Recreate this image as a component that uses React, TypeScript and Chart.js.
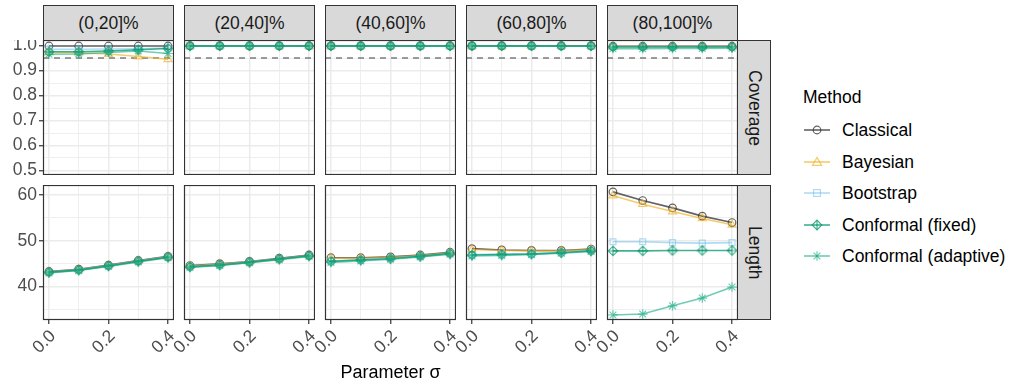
import React, { useEffect, useRef } from "react";
import { Chart, registerables } from "chart.js";

Chart.register(...registerables);

// ---------------- data ----------------
const sigma = [0, 0.1, 0.2, 0.3, 0.4];
const bins = ["(0,20]%", "(20,40]%", "(40,60]%", "(60,80]%", "(80,100]%"];
const rowLabels = ["Coverage", "Length"];
const methods = ["Classical", "Bayesian", "Bootstrap", "Conformal (fixed)", "Conformal (adaptive)"];

// x ticks
const xGridValues = [0, 0.1, 0.2, 0.3, 0.4];
const xMajorValues = [0, 0.2, 0.4];
const xTickLabels = ["0.0", "0.2", "0.4"];
// coverage ticks
const covGridValues = [0.5, 0.55, 0.6, 0.65, 0.7, 0.75, 0.8, 0.85, 0.9, 0.95, 1.0];
const covMajorValues = [0.5, 0.6, 0.7, 0.8, 0.9, 1.0];
const covTickLabels = ["0.5", "0.6", "0.7", "0.8", "0.9", "1.0"];
// length ticks
const lenGridValues = [35, 40, 45, 50, 55, 60];
const lenMajorValues = [40, 50, 60];
const lenTickLabels = ["40", "50", "60"];
const nominalCoverage = 0.95;

// Coverage: one row per bin, values over sigma
const coverageClassical = [
  [0.998, 0.998, 0.998, 0.998, 0.998],
  [0.999, 0.999, 0.999, 0.999, 0.999],
  [0.999, 0.999, 0.999, 0.999, 0.999],
  [0.999, 0.999, 0.999, 0.999, 0.999],
  [0.997, 0.997, 0.997, 0.997, 0.997],
];
const coverageBayesian = [
  [0.972, 0.971, 0.966, 0.956, 0.945],
  [0.998, 0.998, 0.998, 0.998, 0.998],
  [0.998, 0.998, 0.998, 0.998, 0.998],
  [0.998, 0.998, 0.998, 0.998, 0.998],
  [0.996, 0.996, 0.996, 0.996, 0.996],
];
const coverageBootstrap = [
  [0.985, 0.985, 0.986, 0.987, 0.99],
  [0.999, 0.999, 0.999, 0.999, 0.999],
  [0.999, 0.999, 0.999, 0.999, 0.999],
  [0.999, 0.999, 0.999, 0.999, 0.999],
  [0.995, 0.995, 0.995, 0.995, 0.995],
];
const coverageFixed = [
  [0.975, 0.975, 0.978, 0.983, 0.988],
  [0.998, 0.998, 0.998, 0.998, 0.998],
  [0.998, 0.998, 0.998, 0.998, 0.998],
  [0.998, 0.998, 0.998, 0.998, 0.998],
  [0.994, 0.994, 0.994, 0.994, 0.994],
];
const coverageAdaptive = [
  [0.965, 0.966, 0.972, 0.978, 0.968],
  [0.997, 0.997, 0.997, 0.997, 0.997],
  [0.997, 0.997, 0.997, 0.997, 0.997],
  [0.997, 0.997, 0.997, 0.997, 0.997],
  [0.987, 0.987, 0.988, 0.988, 0.989],
];

// Length: one row per bin, values over sigma
const lengthClassical = [
  [43.3, 43.8, 44.7, 45.7, 46.6],
  [44.6, 45.0, 45.5, 46.2, 46.9],
  [46.3, 46.3, 46.5, 46.9, 47.5],
  [48.3, 48.0, 47.9, 47.9, 48.2],
  [60.7, 58.8, 57.2, 55.4, 54.0],
];
const lengthBayesian = [
  [43.2, 43.7, 44.6, 45.6, 46.5],
  [44.5, 44.9, 45.4, 46.1, 46.8],
  [46.2, 46.2, 46.4, 46.8, 47.4],
  [48.1, 47.9, 47.8, 47.8, 48.1],
  [59.9, 58.0, 56.4, 54.9, 53.5],
];
const lengthBootstrap = [
  [43.2, 43.7, 44.6, 45.6, 46.5],
  [44.4, 44.8, 45.4, 46.1, 46.8],
  [45.6, 45.9, 46.2, 46.7, 47.3],
  [47.0, 47.1, 47.2, 47.5, 47.9],
  [49.8, 49.8, 49.6, 49.5, 49.6],
];
const lengthFixed = [
  [43.1, 43.6, 44.5, 45.5, 46.4],
  [44.3, 44.7, 45.3, 46.0, 46.7],
  [45.5, 45.8, 46.1, 46.6, 47.2],
  [46.9, 47.0, 47.1, 47.4, 47.8],
  [47.8, 47.8, 47.9, 47.9, 47.9],
];
const lengthAdaptive = [
  [43.0, 43.5, 44.4, 45.4, 46.3],
  [44.2, 44.6, 45.2, 45.9, 46.6],
  [45.3, 45.6, 46.0, 46.5, 47.1],
  [46.7, 46.8, 47.0, 47.3, 47.7],
  [33.8, 34.0, 35.8, 37.5, 39.9],
];

const coverageSeries = [coverageClassical, coverageBayesian, coverageBootstrap, coverageFixed, coverageAdaptive];
const lengthSeries = [lengthClassical, lengthBayesian, lengthBootstrap, lengthFixed, lengthAdaptive];

// ---------------- styling / layout ----------------
const FONT = "'Liberation Sans', Arial, Helvetica, sans-serif";
const colors = [
  "rgba(60,60,60,0.8)",
  "rgba(240,175,30,0.65)",
  "rgba(110,190,235,0.55)",
  "rgba(0,150,105,0.75)",
  "rgba(20,170,130,0.6)",
];
const PANEL_LEFTS = [43, 184, 325, 466, 607];
const PANEL_W = 131;
const ROW_TOPS = [40, 185];
const PANEL_H = 135;
const Y_AXIS_W = 43;
const X_AXIS_H = 45;
const LABEL_SPILL = 26; // extra canvas room left of bottom panels for rotated labels
const STRIP_TOP = 5;
const STRIP_RIGHT_X = 737;

const near = (a: number, b: number) => Math.abs(a - b) < 1e-9;
const isIn = (v: number, arr: number[]) => arr.some((a) => near(a, v));

function makeDiamondPlus(color: string) {
  const c = document.createElement("canvas");
  c.width = 12;
  c.height = 12;
  const ctx = c.getContext("2d")!;
  ctx.strokeStyle = color;
  ctx.lineWidth = 1.1;
  ctx.beginPath();
  ctx.moveTo(6, 1.2);
  ctx.lineTo(10.8, 6);
  ctx.lineTo(6, 10.8);
  ctx.lineTo(1.2, 6);
  ctx.closePath();
  ctx.moveTo(6, 1.2);
  ctx.lineTo(6, 10.8);
  ctx.moveTo(1.2, 6);
  ctx.lineTo(10.8, 6);
  ctx.stroke();
  return c;
}

const panelPlugin = {
  id: "panelDeco",
  beforeDatasetsDraw(chart: any, _args: any, opts: any) {
    if (opts.row !== 0) return;
    const { ctx, chartArea } = chart;
    const y = chart.scales.y.getPixelForValue(nominalCoverage);
    ctx.save();
    ctx.strokeStyle = "rgba(110,110,110,0.9)";
    ctx.lineWidth = 1.5;
    ctx.setLineDash([6, 5]);
    ctx.beginPath();
    ctx.moveTo(chartArea.left, y);
    ctx.lineTo(chartArea.right, y);
    ctx.stroke();
    ctx.restore();
  },
  afterDraw(chart: any) {
    const { ctx, chartArea } = chart;
    ctx.save();
    ctx.strokeStyle = "#333333";
    ctx.lineWidth = 1.2;
    ctx.setLineDash([]);
    ctx.strokeRect(
      chartArea.left + 0.5,
      chartArea.top + 0.5,
      chartArea.right - chartArea.left - 1,
      chartArea.bottom - chartArea.top - 1
    );
    ctx.restore();
  },
};

function LegendSymbol({ i }: { i: number }) {
  const col = colors[i];
  const cx = 13, cy = 7;
  let mark: React.ReactNode = null;
  if (i === 0) mark = <circle cx={cx} cy={cy} r={3.8} fill="none" stroke={col} strokeWidth={1.2} />;
  if (i === 1)
    mark = <polygon points={`${cx},${cy - 4.6} ${cx + 4.6},${cy + 3.4} ${cx - 4.6},${cy + 3.4}`} fill="none" stroke={col} strokeWidth={1.2} />;
  if (i === 2) mark = <rect x={cx - 3.4} y={cy - 3.4} width={6.8} height={6.8} fill="none" stroke={col} strokeWidth={1.2} />;
  if (i === 3)
    mark = (
      <g fill="none" stroke={col} strokeWidth={1.2}>
        <polygon points={`${cx},${cy - 4.8} ${cx + 4.8},${cy} ${cx},${cy + 4.8} ${cx - 4.8},${cy}`} />
        <line x1={cx} y1={cy - 4.8} x2={cx} y2={cy + 4.8} />
      </g>
    );
  if (i === 4)
    mark = (
      <g stroke={col} strokeWidth={1.2}>
        <line x1={cx} y1={cy - 4.8} x2={cx} y2={cy + 4.8} />
        <line x1={cx - 3.4} y1={cy - 3.4} x2={cx + 3.4} y2={cy + 3.4} />
        <line x1={cx - 3.4} y1={cy + 3.4} x2={cx + 3.4} y2={cy - 3.4} />
      </g>
    );
  return (
    <svg width={26} height={14} style={{ position: "absolute", left: 0, top: 0 }}>
      <line x1={0} y1={cy} x2={26} y2={cy} stroke={col} strokeWidth={1.6} />
      {mark}
    </svg>
  );
}

export default function App() {
  const refs = useRef<(HTMLCanvasElement | null)[]>([]);

  useEffect(() => {
    const charts: Chart[] = [];
    const diamond = makeDiamondPlus(colors[3]);
    const pointStyles: any[] = ["circle", "triangle", "rect", diamond, "star"];
    const pointRadii = [3.8, 4.6, 4.2, 5, 4.8];

    for (let r = 0; r < 2; r++) {
      for (let c = 0; c < 5; c++) {
        const canvas = refs.current[r * 5 + c];
        if (!canvas) continue;
        const isLeft = c === 0;
        const isBottom = r === 1;
        const spill = isBottom && !isLeft ? LABEL_SPILL : 0;
        const series = r === 0 ? coverageSeries : lengthSeries;
        const yGrid = r === 0 ? covGridValues : lenGridValues;
        const yMajor = r === 0 ? covMajorValues : lenMajorValues;
        const yLabels = r === 0 ? covTickLabels : lenTickLabels;
        const yMin = r === 0 ? 0.482 : 32.7;
        const yMax = r === 0 ? 1.022 : 62.2;

        const datasets = methods.map((m, i) => ({
          label: m,
          data: sigma.map((x, k) => ({ x, y: series[i][c][k] })),
          borderColor: colors[i],
          backgroundColor: "transparent",
          borderWidth: 1.6,
          pointStyle: pointStyles[i],
          pointRadius: pointRadii[i],
          pointBorderColor: colors[i],
          pointBackgroundColor: "transparent",
          pointBorderWidth: 1.2,
          tension: 0,
          order: 4 - i,
        }));

        const chart = new Chart(canvas, {
          type: "line",
          data: { datasets },
          options: {
            animation: false,
            responsive: false,
            maintainAspectRatio: false,
            events: [],
            layout: { padding: { left: spill, right: 0, top: 0, bottom: 0 }, autoPadding: false },
            plugins: {
              legend: { display: false },
              tooltip: { enabled: false },
              panelDeco: { row: r },
            } as any,
            scales: {
              x: {
                type: "linear",
                min: -0.02,
                max: 0.42,
                afterBuildTicks: (axis: any) => {
                  axis.ticks = xGridValues.map((v) => ({ value: v }));
                },
                afterFit: (axis: any) => {
                  axis.height = isBottom ? X_AXIS_H : 0;
                  axis.paddingLeft = 0;
                  axis.paddingRight = 0;
                },
                border: { display: false },
                grid: {
                  color: "#EBEBEB",
                  lineWidth: (ctx: any) => (isIn(ctx.tick.value, xMajorValues) ? 1.5 : 0.8),
                  drawTicks: isBottom,
                  tickLength: 4,
                  tickWidth: 1.2,
                  tickColor: (ctx: any) => (isIn(ctx.tick.value, xMajorValues) ? "#333333" : "rgba(0,0,0,0)"),
                },
                ticks: {
                  display: isBottom,
                  autoSkip: false,
                  minRotation: 45,
                  maxRotation: 45,
                  padding: 2,
                  labelOffset: 4,
                  color: "#4D4D4D",
                  font: { family: FONT, size: 17.5 },
                  callback: (v: any) => {
                    const idx = xMajorValues.findIndex((a) => near(a, Number(v)));
                    return idx >= 0 ? xTickLabels[idx] : "";
                  },
                },
              },
              y: {
                type: "linear",
                min: yMin,
                max: yMax,
                afterBuildTicks: (axis: any) => {
                  axis.ticks = yGrid.map((v) => ({ value: v }));
                },
                afterFit: (axis: any) => {
                  axis.width = isLeft ? Y_AXIS_W : 0;
                  axis.paddingTop = 0;
                  axis.paddingBottom = 0;
                },
                border: { display: false },
                grid: {
                  color: "#EBEBEB",
                  lineWidth: (ctx: any) => (isIn(ctx.tick.value, yMajor) ? 1.5 : 0.8),
                  drawTicks: isLeft,
                  tickLength: 4,
                  tickWidth: 1.2,
                  tickColor: (ctx: any) => (isIn(ctx.tick.value, yMajor) ? "#333333" : "rgba(0,0,0,0)"),
                },
                ticks: {
                  display: isLeft,
                  autoSkip: false,
                  padding: 2,
                  color: "#4D4D4D",
                  font: { family: FONT, size: 17.5 },
                  callback: (v: any) => {
                    const idx = yMajor.findIndex((a) => near(a, Number(v)));
                    return idx >= 0 ? yLabels[idx] : "";
                  },
                },
              },
            },
          } as any,
          plugins: [panelPlugin],
        });
        charts.push(chart);
      }
    }
    return () => charts.forEach((ch) => ch.destroy());
  }, []);

  const canvases: React.ReactNode[] = [];
  for (let r = 0; r < 2; r++) {
    for (let c = 0; c < 5; c++) {
      const spill = r === 1 && c > 0 ? LABEL_SPILL : 0;
      const left = PANEL_LEFTS[c] - (c === 0 ? Y_AXIS_W : 0) - spill;
      const width = PANEL_W + (c === 0 ? Y_AXIS_W : 0) + spill;
      const top = ROW_TOPS[r];
      const height = PANEL_H + (r === 1 ? X_AXIS_H : 0);
      canvases.push(
        <canvas
          key={`p${r}${c}`}
          ref={(el) => {
            refs.current[r * 5 + c] = el;
          }}
          width={width}
          height={height}
          style={{ position: "absolute", left, top, width, height }}
        />
      );
    }
  }

  const stripStyle: React.CSSProperties = {
    position: "absolute",
    boxSizing: "border-box",
    background: "#D9D9D9",
    border: "1px solid #333333",
    color: "#1A1A1A",
    fontSize: 17.5,
    display: "flex",
    alignItems: "center",
    justifyContent: "center",
    fontFamily: FONT,
  };

  return (
    <div
      style={{
        position: "fixed",
        left: 0,
        top: 0,
        width: 1016,
        height: 387,
        background: "#ffffff",
        fontFamily: FONT,
        overflow: "hidden",
      }}
    >
      {bins.map((b, c) => (
        <div
          key={b}
          style={{ ...stripStyle, left: PANEL_LEFTS[c], top: STRIP_TOP, width: PANEL_W, height: ROW_TOPS[0] - STRIP_TOP + 1 }}
        >
          {b}
        </div>
      ))}
      {rowLabels.map((lab, r) => (
        <div
          key={lab}
          style={{ ...stripStyle, left: STRIP_RIGHT_X, top: ROW_TOPS[r], width: 34, height: PANEL_H }}
        >
          <span style={{ writingMode: "vertical-rl" }}>{lab}</span>
        </div>
      ))}
      {canvases}
      <div
        style={{
          position: "absolute",
          left: 43,
          width: 695,
          top: 361,
          textAlign: "center",
          fontSize: 18,
          color: "#000",
          lineHeight: "22px",
        }}
      >
        Parameter σ
      </div>
      <div style={{ position: "absolute", left: 803, top: 86, fontSize: 17.5, lineHeight: "22px", color: "#000" }}>
        Method
      </div>
      {methods.map((m, i) => (
        <div key={m} style={{ position: "absolute", left: 804, top: 123 + i * 31.5, height: 14, width: 210 }}>
          <LegendSymbol i={i} />
          <div
            style={{
              position: "absolute",
              left: 38,
              top: -4,
              fontSize: 17.5,
              lineHeight: "22px",
              color: "#000",
              whiteSpace: "nowrap",
            }}
          >
            {m}
          </div>
        </div>
      ))}
    </div>
  );
}
